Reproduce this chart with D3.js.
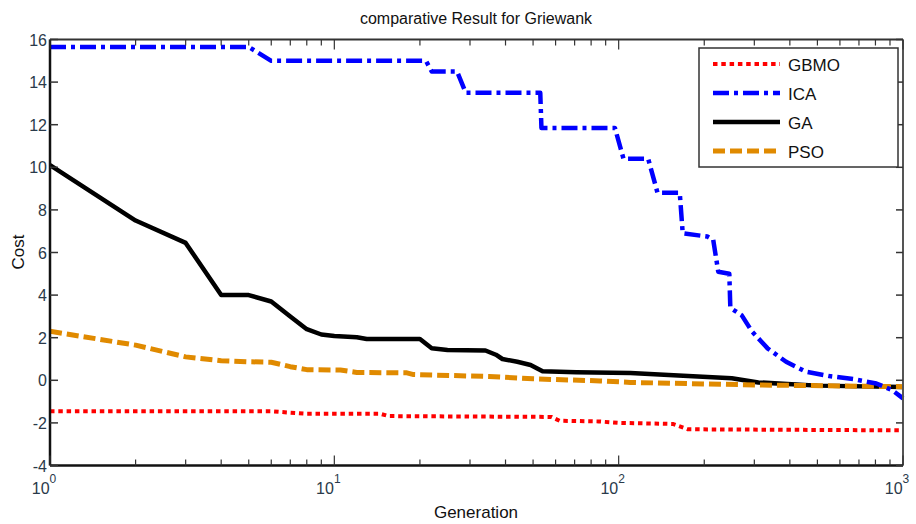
<!DOCTYPE html>
<html>
<head>
<meta charset="utf-8">
<script src="https://cdn.jsdelivr.net/npm/d3@7"></script>
<style>
  body { margin: 0; background: #fff; }
  text { font-family: "Liberation Sans", Arial, sans-serif; }
</style>
</head>
<body>
<script>
// Data: [generation, cost]
var gbmo = [[1,-1.45],[6,-1.45],[7,-1.52],[8,-1.57],[14.5,-1.57],[15.5,-1.68],[58,-1.72],[62,-1.9],[85,-1.93],[100,-2.0],[155,-2.05],[175,-2.3],[1000,-2.35]];
var ica = [[1,15.65],[5,15.65],[6,15.0],[21,15.0],[22,14.5],[27,14.5],[29,13.5],[53,13.5],[53.5,11.85],[97,11.85],[104,10.4],[127,10.4],[137,8.8],[164,8.8],[168,6.9],[205,6.75],[215,6.6],[224,5.1],[245,5.0],[247,3.4],[271,3.05],[294,2.3],[334,1.5],[388,0.87],[456,0.4],[550,0.2],[673,0.05],[806,-0.15],[913,-0.45],[1000,-0.85]];
var ga = [[1,10.1],[2,7.5],[3,6.45],[4,4.0],[5,4.0],[6,3.7],[7,3.0],[8,2.4],[9,2.15],[10,2.08],[12,2.02],[13,1.94],[20,1.94],[22,1.5],[25,1.42],[34,1.4],[37,1.2],[39,1.0],[44,0.87],[49,0.72],[54,0.42],[71,0.38],[110,0.34],[150,0.25],[250,0.1],[310,-0.1],[500,-0.25],[1000,-0.32]];
var pso = [[1,2.3],[2,1.65],[3,1.1],[4,0.92],[5,0.87],[6,0.85],[7,0.64],[8,0.5],[10.5,0.48],[12,0.37],[18,0.35],[19,0.27],[35,0.18],[50,0.07],[86,-0.03],[110,-0.1],[314,-0.22],[1000,-0.3]];

var yTicks = [-4, -2, 0, 2, 4, 6, 8, 10, 12, 14, 16];
var xMajor = [1, 10, 100, 1000];
var seriesNames = ["GBMO", "ICA", "GA", "PSO"];

var width = 916, height = 524;
var pLeft = 50, pRight = 903, pTop = 39.5, pBottom = 465.5;

var svg = d3.select("body").append("svg")
    .attr("width", width)
    .attr("height", height);

var x = d3.scaleLog().domain([1, 1000]).range([pLeft, pRight]);
var y = d3.scaleLinear().domain([-4, 16]).range([pBottom, pTop]);

var styles = {
  GBMO: { data: gbmo, color: "#ff0000", w: 4, dash: "4.5,3.8" },
  ICA:  { data: ica,  color: "#0000ff", w: 4.5, dash: "16,5,4,5" },
  GA:   { data: ga,   color: "#000000", w: 4.5, dash: null },
  PSO:  { data: pso,  color: "#e08a00", w: 5, dash: "12,5" }
};

svg.append("clipPath").attr("id", "clip")
  .append("rect").attr("x", pLeft).attr("y", pTop - 4).attr("width", pRight - pLeft + 3).attr("height", pBottom - pTop + 8);

var line = d3.line()
    .x(function (d) { return x(d[0]); })
    .y(function (d) { return y(d[1]); });

// draw order: GA, PSO, ICA, GBMO
["GA", "PSO", "ICA", "GBMO"].forEach(function (k) {
  var s = styles[k];
  svg.append("path")
    .datum(s.data)
    .attr("clip-path", "url(#clip)")
    .attr("d", line)
    .attr("fill", "none")
    .attr("stroke", s.color)
    .attr("stroke-width", s.w)
    .attr("stroke-dasharray", s.dash)
    .attr("stroke-linejoin", "round");
});

// frame
svg.append("line").attr("x1", pLeft).attr("x2", pRight).attr("y1", pTop).attr("y2", pTop).attr("stroke", "#333").attr("stroke-width", 2);
svg.append("line").attr("x1", pRight).attr("x2", pRight).attr("y1", pTop).attr("y2", pBottom).attr("stroke", "#555").attr("stroke-width", 2);
svg.append("line").attr("x1", pLeft).attr("x2", pRight).attr("y1", pBottom).attr("y2", pBottom).attr("stroke", "#111").attr("stroke-width", 2.5);
svg.append("line").attr("x1", pLeft).attr("x2", pLeft).attr("y1", pTop).attr("y2", pBottom).attr("stroke", "#111").attr("stroke-width", 2.5);

var tickColor = "#333";
var labelColor = "#2a3a4a";

// y ticks
yTicks.forEach(function (t) {
  svg.append("line").attr("x1", pLeft).attr("x2", pLeft + 8).attr("y1", y(t)).attr("y2", y(t)).attr("stroke", tickColor).attr("stroke-width", 1.5);
  svg.append("line").attr("x1", pRight - 7).attr("x2", pRight).attr("y1", y(t)).attr("y2", y(t)).attr("stroke", tickColor).attr("stroke-width", 1.5);
  svg.append("text").attr("x", pLeft - 3).attr("y", y(t) + 6)
    .attr("text-anchor", "end").attr("font-size", 16).attr("fill", labelColor).text(t);
});

// x ticks (log)
var minor = [];
[1, 10, 100].forEach(function (dec) {
  for (var i = 2; i <= 9; i++) minor.push(dec * i);
});
minor.forEach(function (t) {
  svg.append("line").attr("x1", x(t)).attr("x2", x(t)).attr("y1", pBottom).attr("y2", pBottom - 6).attr("stroke", tickColor).attr("stroke-width", 1.2);
  svg.append("line").attr("x1", x(t)).attr("x2", x(t)).attr("y1", pTop).attr("y2", pTop + 6).attr("stroke", tickColor).attr("stroke-width", 1.2);
});
xMajor.forEach(function (t) {
  svg.append("line").attr("x1", x(t)).attr("x2", x(t)).attr("y1", pBottom).attr("y2", pBottom - 10).attr("stroke", tickColor).attr("stroke-width", 1.2);
  svg.append("line").attr("x1", x(t)).attr("x2", x(t)).attr("y1", pTop).attr("y2", pTop + 10).attr("stroke", tickColor).attr("stroke-width", 1.2);
  var g = svg.append("text").attr("x", x(t) - 6).attr("y", 494)
    .attr("text-anchor", "middle").attr("font-size", 16).attr("fill", labelColor);
  g.append("tspan").text("10");
  g.append("tspan").attr("dy", -11).attr("font-size", 12).text(Math.round(Math.log10(t)));
});

// title and axis labels
svg.append("text").attr("x", 476).attr("y", 24).attr("text-anchor", "middle")
  .attr("font-size", 16).attr("fill", "#111").text("comparative Result for Griewank");
svg.append("text").attr("x", 476).attr("y", 518).attr("text-anchor", "middle")
  .attr("font-size", 17).attr("fill", "#111").text("Generation");
svg.append("text").attr("transform", "translate(24,252) rotate(-90)").attr("text-anchor", "middle")
  .attr("font-size", 17).attr("fill", "#111").text("Cost");

// legend
var lg = svg.append("g").attr("transform", "translate(699,48)");
lg.append("rect").attr("width", 199).attr("height", 119).attr("fill", "#fff").attr("stroke", "#333").attr("stroke-width", 1.5);
seriesNames.forEach(function (k, i) {
  var s = styles[k];
  var yy = 16 + i * 29;
  lg.append("line").attr("x1", 14).attr("x2", 81).attr("y1", yy).attr("y2", yy)
    .attr("stroke", s.color).attr("stroke-width", s.w).attr("stroke-dasharray", s.dash);
  lg.append("text").attr("x", 89).attr("y", yy + 7).attr("font-size", 17).attr("fill", "#111").text(k);
});
</script>
</body>
</html>
